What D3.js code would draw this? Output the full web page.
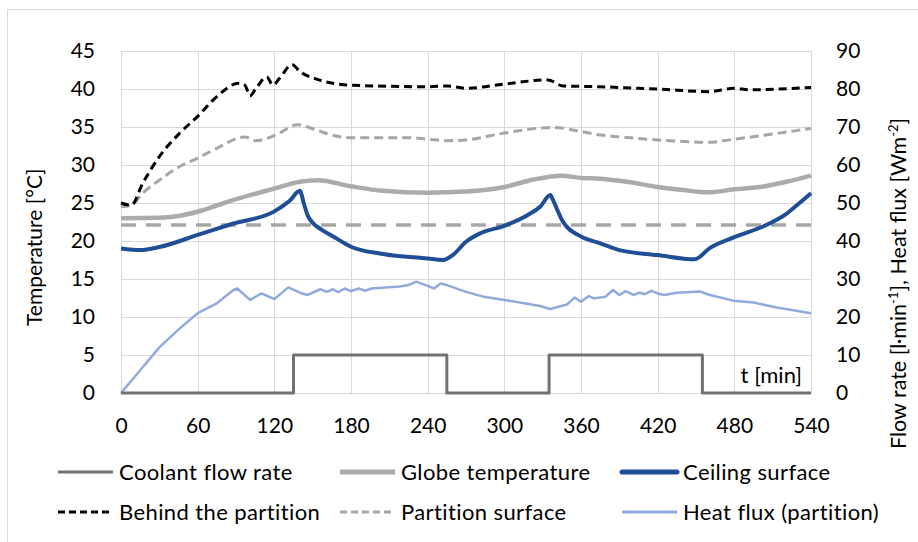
<!DOCTYPE html>
<html lang="en">
<head>
<meta charset="UTF-8">
<title>Cooling test</title>
<script src="https://d3js.org/d3.v7.min.js"></script>
<style>
    body { margin: 0; background: #fff; }
    svg { display: block; font-family: Lato, "Open Sans", sans-serif; }
</style>
</head>
<body>
<div id="chart"></div>
<script>
    // time ticks [min] and axis ticks
    const timeTicks = [0, 60, 120, 180, 240, 300, 360, 420, 480, 540];
    const tempTicks = [0, 5, 10, 15, 20, 25, 30, 35, 40, 45];
    const rightTicks = [0, 10, 20, 30, 40, 50, 60, 70, 80, 90];

    // [t, l/min] - right axis
    const coolantFlow = [[0, 0], [135, 0], [135, 10], [255, 10], [255, 0], [335, 0], [335, 10], [455, 10], [455, 0], [540, 0]];

    // [t, °C]
    const globeTemp = [[0, 23.0], [30, 23.05], [45, 23.3], [60, 23.85], [88, 25.4], [120, 26.9], [140, 27.8], [154, 28.0],
        [180, 27.2], [205, 26.6], [240, 26.35], [270, 26.5], [300, 27.1], [323, 28.1], [345, 28.6], [360, 28.3], [375, 28.2],
        [396, 27.8], [420, 27.1], [440, 26.7], [460, 26.4], [480, 26.8], [500, 27.1], [521, 27.8], [540, 28.6]];

    const ceilingSurface = [[0, 19.0], [15, 18.8], [30, 19.2], [60, 20.8], [88, 22.3], [120, 23.9], [132, 25.3], [140, 26.6],
        [143, 25.0], [146, 23.4], [150, 22.4], [156, 21.6], [166, 20.6], [180, 19.25], [205, 18.3], [240, 17.7], [252, 17.5],
        [260, 18.2], [270, 19.9], [281, 21.0], [300, 22.0], [318, 23.4], [328, 24.5], [336, 26.05], [338, 25.4], [346, 22.5],
        [360, 20.6], [375, 19.7], [390, 18.8], [420, 18.15], [449, 17.6], [461, 19.1], [480, 20.5], [505, 22.1], [521, 23.6],
        [531, 25.0], [540, 26.3]];

    const behindPartition = [[0, 25.0], [8, 24.7], [17, 27.6], [30, 31.1], [46, 34.2], [60, 36.4], [75, 39.0], [92, 40.75],
        [97, 40.5], [101, 39.1], [105, 39.9], [114, 41.6], [119, 40.5], [124, 41.4], [134, 43.2], [140, 42.3], [153, 41.3],
        [180, 40.5], [240, 40.3], [255, 40.4], [270, 40.1], [300, 40.65], [334, 41.2], [346, 40.4], [375, 40.3], [390, 40.2],
        [420, 40.0], [460, 39.65], [480, 40.1], [492, 39.9], [540, 40.2]];

    const partitionSurface = [[0, 24.5], [8, 24.7], [17, 26.3], [30, 28.0], [46, 29.8], [60, 30.9], [75, 32.2], [97, 33.7],
        [105, 33.2], [119, 33.8], [124, 34.2], [138, 35.3], [153, 34.6], [166, 33.9], [180, 33.6], [224, 33.6], [240, 33.4],
        [255, 33.2], [270, 33.3], [300, 34.2], [338, 34.95], [360, 34.4], [375, 33.95], [390, 33.7], [420, 33.3], [460, 33.0],
        [480, 33.4], [540, 34.8]];

    // [t, W/m2] - right axis
    const heatFlux = [[0, 0], [15, 6.0], [30, 12.0], [46, 17.0], [60, 21.0], [75, 23.6], [88, 27.1], [91, 27.5], [101, 24.5], [110, 26.2],
        [120, 24.7], [131, 27.8], [140, 26.4], [146, 25.8], [156, 27.3], [161, 26.6], [166, 27.3], [170, 26.5], [175, 27.5],
        [180, 26.8], [186, 27.5], [191, 26.9], [196, 27.5], [218, 28.0], [225, 28.4], [231, 29.3], [240, 28.2], [245, 27.5],
        [250, 28.8], [255, 28.4], [270, 26.6], [284, 25.3], [300, 24.5], [328, 22.9], [336, 22.1], [349, 23.3], [355, 25.1],
        [360, 24.0], [366, 25.5], [370, 24.9], [379, 25.3], [385, 27.1], [390, 25.8], [395, 26.8], [401, 25.8], [406, 26.4],
        [410, 26.0], [415, 26.9], [420, 26.2], [425, 25.8], [435, 26.4], [453, 26.7], [461, 25.8], [479, 24.3], [495, 23.8],
        [513, 22.5], [540, 21.0]];

    // constant reference level [°C]
    const referenceLine = [[0, 22.1], [540, 22.1]];

    const width = 918, height = 542;
    const svg = d3.select("#chart").append("svg")
        .attr("width", width)
        .attr("height", height);

    // chart frame
    svg.append("rect")
        .attr("x", 7.5).attr("y", 9.5)
        .attr("width", 930).attr("height", 560)
        .attr("fill", "none")
        .attr("stroke", "#d9d9d9");

    const x = d3.scaleLinear().domain([0, 540]).range([121, 811]);
    const yL = d3.scaleLinear().domain([0, 45]).range([393, 51]);
    const yR = d3.scaleLinear().domain([0, 90]).range([393, 51]);

    // gridlines
    const grid = svg.append("g").attr("stroke", "#d9d9d9").attr("stroke-width", 1);
    grid.selectAll(".h").data(tempTicks).enter().append("line")
        .attr("x1", x(0)).attr("x2", x(540))
        .attr("y1", d => Math.round(yL(d)) + 0.5).attr("y2", d => Math.round(yL(d)) + 0.5);
    grid.selectAll(".v").data(timeTicks).enter().append("line")
        .attr("y1", yL(0)).attr("y2", yL(45))
        .attr("x1", d => Math.round(x(d)) + 0.5).attr("x2", d => Math.round(x(d)) + 0.5);

    // axes (labels only)
    const fontSize = "21px";
    const bottom = svg.append("g").attr("transform", `translate(0,${yL(0) + 22})`)
        .call(d3.axisBottom(x).tickValues(timeTicks).tickSize(0).tickFormat(d3.format("d")));
    const left = svg.append("g").attr("transform", `translate(${x(0) - 23},0)`)
        .call(d3.axisLeft(yL).tickValues(tempTicks).tickSize(0));
    const right = svg.append("g").attr("transform", `translate(${x(540) + 22},0)`)
        .call(d3.axisRight(yR).tickValues(rightTicks).tickSize(0));
    [bottom, left, right].forEach(g => {
        g.select(".domain").remove();
        g.selectAll("text").attr("font-size", fontSize).attr("font-family", "Lato, sans-serif").attr("fill", "#000");
    });
    bottom.selectAll("text").attr("dy", "0.71em");

    // series
    const lineL = d3.line().x(d => x(d[0])).y(d => yL(d[1]));
    const lineLSmooth = d3.line().x(d => x(d[0])).y(d => yL(d[1])).curve(d3.curveMonotoneX);
    const lineR = d3.line().x(d => x(d[0])).y(d => yR(d[1]));

    const series = [
        { name: "Reference", data: referenceLine, gen: lineL, color: "#a6a6a6", w: 3.5, dash: "15,10" },
        { name: "Partition surface", data: partitionSurface, gen: lineLSmooth, color: "#a6a6a6", w: 3, dash: "9,5" },
        { name: "Behind the partition", data: behindPartition, gen: lineLSmooth, color: "#000000", w: 3, dash: "8,5" },
        { name: "Globe temperature", data: globeTemp, gen: lineLSmooth, color: "#aeaaaa", w: 4.5 },
        { name: "Heat flux (partition)", data: heatFlux, gen: lineR, color: "#8faadc", w: 2.5 },
        { name: "Ceiling surface", data: ceilingSurface, gen: lineLSmooth, color: "#1f4e96", w: 4 },
        { name: "Coolant flow rate", data: coolantFlow, gen: lineR, color: "#767171", w: 3 }
    ];

    svg.append("g").selectAll("path").data(series).enter().append("path")
        .attr("d", d => d.gen(d.data))
        .attr("fill", "none")
        .attr("stroke", d => d.color)
        .attr("stroke-width", d => d.w)
        .attr("stroke-dasharray", d => d.dash || null)
        .attr("stroke-linejoin", "round");

    // axis titles
    svg.append("text")
        .attr("transform", "translate(42,326) rotate(-90)")
        .attr("text-anchor", "start")
        .attr("font-size", fontSize)
        .text("Temperature [°C]");

    const rt = svg.append("text")
        .attr("transform", "translate(906,449) rotate(-90)")
        .attr("text-anchor", "start")
        .attr("font-size", "21.5px");
    rt.append("tspan").text("Flow rate [l·min");
    rt.append("tspan").attr("font-size", "13px").attr("dy", "-8").text("-1");
    rt.append("tspan").attr("dy", "8").text("], Heat flux [Wm");
    rt.append("tspan").attr("font-size", "13px").attr("dy", "-8").text("-2");
    rt.append("tspan").attr("dy", "8").text("]");

    svg.append("text")
        .attr("x", 802).attr("y", 383)
        .attr("text-anchor", "end")
        .attr("font-size", "22px")
        .text("t [min]");

    // legend
    const legendItems = [
        { s: "Coolant flow rate", col: 0, row: 0, w: 3 },
        { s: "Globe temperature", col: 1, row: 0, w: 5 },
        { s: "Ceiling surface", col: 2, row: 0, w: 5 },
        { s: "Behind the partition", col: 0, row: 1, w: 3 },
        { s: "Partition surface", col: 1, row: 1, w: 3 },
        { s: "Heat flux (partition)", col: 2, row: 1, w: 3 }
    ];
    const colX = [58, 340, 622];
    const rowY = [472, 512];
    const leg = svg.append("g").selectAll("g").data(legendItems).enter().append("g")
        .attr("transform", d => `translate(${colX[d.col]},${rowY[d.row]})`);
    leg.append("line")
        .attr("x1", 0).attr("x2", 55)
        .attr("stroke", d => series.find(s => s.name === d.s).color)
        .attr("stroke-width", d => d.w)
        .attr("stroke-dasharray", d => d.row === 1 && d.col < 2 ? "7,4" : null)
        .attr("stroke-linecap", d => d.col === 2 && d.row === 0 ? "round" : "butt");
    leg.append("text")
        .attr("x", 61).attr("dy", "0.35em")
        .attr("font-size", "22px")
        .attr("letter-spacing", "0.4px")
        .text(d => d.s);
</script>
</body>
</html>
